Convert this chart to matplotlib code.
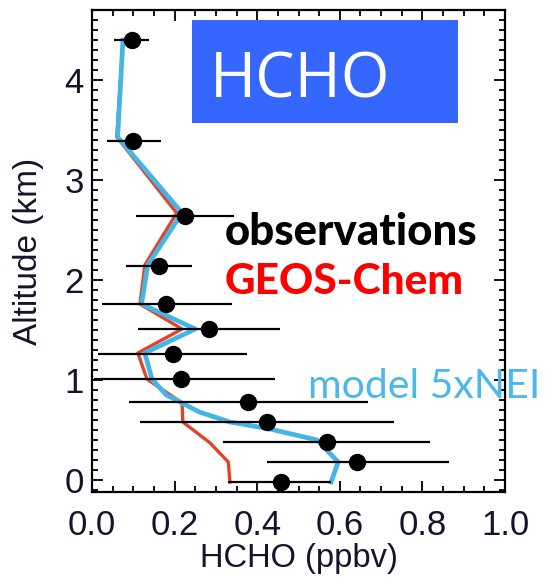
import matplotlib
matplotlib.use("Agg")
import matplotlib.pyplot as plt
from matplotlib.patches import Rectangle
from matplotlib.ticker import MultipleLocator

# Observed HCHO profile (ppbv) with horizontal spread bars
obs_alt = [4.40, 3.39, 2.64, 2.14, 1.76, 1.51, 1.26, 1.01, 0.78, 0.58, 0.38, 0.18, -0.02]
obs_val = [0.097, 0.100, 0.225, 0.162, 0.180, 0.283, 0.195, 0.215, 0.377, 0.423, 0.569, 0.641, 0.457]
obs_lo = [0.053, 0.036, 0.106, 0.082, 0.025, 0.112, 0.014, 0.005, 0.090, 0.116, 0.317, 0.423, 0.330]
obs_hi = [0.138, 0.167, 0.344, 0.242, 0.340, 0.455, 0.375, 0.443, 0.668, 0.731, 0.818, 0.864, 0.579]

# GEOS-Chem base simulation
gc_alt = [4.40, 3.43, 2.67, 2.15, 1.76, 1.51, 1.27, 1.01, 0.77, 0.58, 0.37, 0.18, -0.02]
gc_val = [0.075, 0.060, 0.205, 0.128, 0.116, 0.218, 0.111, 0.133, 0.218, 0.220, 0.286, 0.330, 0.334]

# Simulation with 5x NEI emissions
nei_alt = [4.40, 3.43, 2.67, 2.15, 1.76, 1.51, 1.27, 1.01, 0.85, 0.68, 0.58, 0.51, 0.40, 0.18, -0.02]
nei_val = [0.075, 0.062, 0.218, 0.135, 0.120, 0.250, 0.128, 0.145, 0.180, 0.260, 0.334, 0.431, 0.545, 0.596, 0.579]

xticks = [0.0, 0.2, 0.4, 0.6, 0.8, 1.0]
xticklabels = ["0.0", "0.2", "0.4", "0.6", "0.8", "1.0"]
yticks = [0, 1, 2, 3, 4]

W, H = 551, 579
fig = plt.figure(figsize=(W / 100, H / 100), dpi=100)
ax_l, ax_r, ax_t, ax_b = 92, 505, 10, 492
ax = fig.add_axes([ax_l / W, 1 - ax_b / H, (ax_r - ax_l) / W, (ax_b - ax_t) / H])

tick_color = "#14142a"
label_font = "Liberation Sans"

ax.plot(gc_val, gc_alt, color="#e2432c", lw=2.4, zorder=2)
ax.plot(nei_val, nei_alt, color="#44b6e6", lw=3.4, zorder=3)

xerr = [[v - lo for v, lo in zip(obs_val, obs_lo)], [hi - v for v, hi in zip(obs_val, obs_hi)]]
ax.errorbar(obs_val, obs_alt, xerr=xerr, fmt="o", color="black", ms=11.5,
            elinewidth=1.6, capsize=0, zorder=4)

ax.set_xlim(0, 1.0)
ax.set_ylim(-0.12, 4.70)
ax.set_xticks(xticks)
ax.set_xticklabels(xticklabels)
ax.set_yticks(yticks)
ax.xaxis.set_minor_locator(MultipleLocator(0.05))
ax.yaxis.set_minor_locator(MultipleLocator(0.1))
ax.tick_params(which="both", direction="in", top=True, right=True, width=1.3,
               colors="black", labelcolor=tick_color, labelsize=25)
ax.tick_params(which="major", length=8)
ax.tick_params(which="minor", length=4.5)
ax.tick_params(axis="x", pad=12)
ax.tick_params(axis="y", pad=6)
for lab in ax.get_xticklabels() + ax.get_yticklabels():
    lab.set_fontfamily(label_font)
for sp in ax.spines.values():
    sp.set_linewidth(1.6)

ax_h = ax_b - ax_t
ax_w = ax_r - ax_l
ax.set_xlabel("HCHO (ppbv)", fontsize=23.5, family=label_font, color=tick_color, va="baseline")
ax.xaxis.set_label_coords(0.5, (ax_b - 567) / ax_h)
ax.set_ylabel("Altitude (km)", fontsize=24, family=label_font, color=tick_color)
ax.yaxis.set_label_coords((44 - ax_l) / ax_w, 0.5)

# Title badge
fig.patches.append(Rectangle((192 / W, 1 - 123 / H), (458 - 192) / W, (123 - 20) / H,
                             transform=fig.transFigure, facecolor="#3566fe",
                             edgecolor="none", zorder=5))
fig.text(210 / W, 1 - 97 / H, "HCHO", color="white", fontsize=45, family="Open Sans",
         va="baseline", ha="left", zorder=6)

# Series annotations
fig.text(225 / W, 1 - 245 / H, "observations", color="black", fontsize=31.5,
         family="Lato", weight="black", va="baseline", ha="left", zorder=6)
fig.text(225 / W, 1 - 294 / H, "GEOS-Chem", color="#ff0000", fontsize=30.5,
         family="Lato", weight="black", va="baseline", ha="left", zorder=6)
fig.text(308 / W, 1 - 398 / H, "model 5xNEI", color="#4cb8e8", fontsize=29.5,
         family="Lato", va="baseline", ha="left", zorder=6)

fig.savefig("out.png", dpi=100)
